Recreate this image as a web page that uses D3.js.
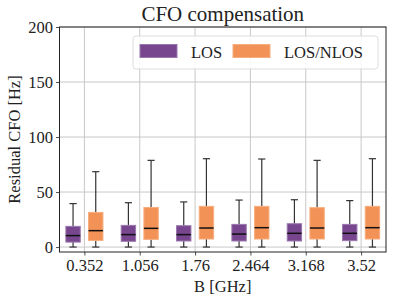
<!doctype html>
<html lang="en">
  <head>
    <meta charset="utf-8">
    <title>CFO compensation</title>
    <style>
        body { margin: 0; background: #fff; }
        text { font-family: "Liberation Serif", "DejaVu Serif", serif; fill: #222; }
        .grid line { stroke: #c8c8c8; stroke-width: 1px; }
        .whisker { stroke: #333; stroke-width: 1.2px; }
        .median { stroke: #111; stroke-width: 1.5px; }
    </style>
  </head>
  <body>
    <svg width="394" height="303"></svg>
    <script src="https://d3js.org/d3.v7.min.js"></script>
    <script>
        // x categories (bandwidth, GHz)
        var categories = ["0.352", "1.056", "1.76", "2.464", "3.168", "3.52"];
        var series = ["LOS", "LOS/NLOS"];
        var colors = ["#78468f", "#f39257"];
        var edges = ["#9a78ae", "#f6ae7e"];

        // box stats per category: [low whisker, q1, median, q3, high whisker]
        var losStats = [
            [0, 4.5, 10.4, 18.8, 39.5],
            [0, 5.2, 11.3, 19.7, 40.3],
            [0, 5.5, 11.3, 19.4, 41.0],
            [0, 5.5, 11.8, 20.6, 42.7],
            [0, 5.5, 12.5, 21.2, 43.0],
            [0, 5.8, 12.5, 20.6, 42.2]
        ];
        var nlosStats = [
            [0, 6.0, 14.9, 31.5, 68.5],
            [0, 7.0, 17.0, 36.0, 78.8],
            [0, 7.3, 17.3, 37.0, 80.3],
            [0, 7.3, 17.6, 37.0, 80.0],
            [0, 7.3, 17.3, 35.8, 78.8],
            [0, 7.3, 17.6, 37.0, 80.3]
        ];
        var yTicks = [0, 50, 100, 150, 200];

        var svg = d3.select("svg");
        var mL = 59.5, mR = 386, mT = 27, mB = 252;

        var x = d3.scaleLinear().domain([-0.45, 5.45]).range([mL, mR]);
        var y = d3.scaleLinear().domain([-4.5, 200]).range([mB, mT]);

        // grid
        var grid = svg.append("g").attr("class", "grid");
        grid.selectAll(".h").data(yTicks).enter().append("line")
            .attr("x1", mL).attr("x2", mR)
            .attr("y1", d => y(d)).attr("y2", d => y(d));
        grid.selectAll(".v").data(categories).enter().append("line")
            .attr("x1", (d, i) => x(i)).attr("x2", (d, i) => x(i))
            .attr("y1", mT).attr("y2", mB);

        // boxes
        var boxW = 0.26, offset = 0.205;
        [losStats, nlosStats].forEach(function(stats, s) {
            var g = svg.append("g");
            var dx = s == 0 ? -offset : offset;
            var boxes = g.selectAll("g").data(stats).enter().append("g");
            boxes.append("line").attr("class", "whisker")
                .attr("x1", (d, i) => x(i + dx)).attr("x2", (d, i) => x(i + dx))
                .attr("y1", d => y(d[0])).attr("y2", d => y(d[1]));
            boxes.append("line").attr("class", "whisker")
                .attr("x1", (d, i) => x(i + dx)).attr("x2", (d, i) => x(i + dx))
                .attr("y1", d => y(d[3])).attr("y2", d => y(d[4]));
            [0, 4].forEach(function(k) {
                boxes.append("line").attr("class", "whisker")
                    .attr("x1", (d, i) => x(i + dx - boxW / 4)).attr("x2", (d, i) => x(i + dx + boxW / 4))
                    .attr("y1", d => y(d[k])).attr("y2", d => y(d[k]));
            });
            boxes.append("rect")
                .attr("x", (d, i) => x(i + dx - boxW / 2))
                .attr("width", x(boxW) - x(0))
                .attr("y", d => y(d[3]))
                .attr("height", d => y(d[1]) - y(d[3]))
                .style("fill", colors[s])
                .style("stroke", edges[s])
                .style("stroke-width", 1);
            boxes.append("line").attr("class", "median")
                .attr("x1", (d, i) => x(i + dx - boxW / 2)).attr("x2", (d, i) => x(i + dx + boxW / 2))
                .attr("y1", d => y(d[2])).attr("y2", d => y(d[2]));
        });

        // axes
        var xAxis = d3.axisBottom(x).tickValues(d3.range(categories.length))
            .tickFormat(i => categories[i]).tickSize(3.5).tickPadding(4);
        var yAxis = d3.axisLeft(y).tickValues(yTicks).tickSize(3.5).tickPadding(3);

        svg.append("g").attr("transform", "translate(0," + mB + ")").call(xAxis)
            .call(g => g.select(".domain").remove())
            .selectAll("text").style("font-size", "16.5px").attr("fill", "#222");
        svg.append("g").attr("transform", "translate(" + mL + ",0)").call(yAxis)
            .call(g => g.select(".domain").remove())
            .selectAll("text").style("font-size", "16.5px").attr("fill", "#222");
        svg.selectAll(".tick line").attr("stroke", "#222").attr("stroke-width", 0.8);

        svg.append("rect")
            .attr("x", mL).attr("y", mT)
            .attr("width", mR - mL).attr("height", mB - mT)
            .style("fill", "none").style("stroke", "#222").style("stroke-width", 1);

        // labels
        svg.append("text").attr("x", (mL + mR) / 2).attr("y", 21)
            .attr("text-anchor", "middle").style("font-size", "21px")
            .text("CFO compensation");
        svg.append("text").attr("x", (mL + mR) / 2).attr("y", 292)
            .attr("text-anchor", "middle").style("font-size", "16.5px")
            .text("B [GHz]");
        svg.append("text")
            .attr("transform", "translate(20," + ((mT + mB) / 2) + ") rotate(-90)")
            .attr("text-anchor", "middle").style("font-size", "16.5px")
            .text("Residual CFO [Hz]");

        // legend
        var legend = svg.append("g");
        legend.append("rect").attr("x", 133).attr("y", 36).attr("width", 245).attr("height", 33)
            .attr("rx", 3).style("fill", "#fff").style("fill-opacity", 0.85)
            .style("stroke", "#ddd").style("stroke-width", 1);
        var legX = [140, 233];
        var items = legend.selectAll(".item").data(series).enter().append("g");
        items.append("rect")
            .attr("x", (d, i) => legX[i]).attr("y", 44.5)
            .attr("width", 37).attr("height", 13)
            .style("fill", (d, i) => colors[i]).style("stroke", (d, i) => edges[i]);
        items.append("text")
            .attr("x", (d, i) => legX[i] + 51).attr("y", 57.5)
            .style("font-size", "16.5px")
            .text(d => d);
    </script>
  </body>
</html>
